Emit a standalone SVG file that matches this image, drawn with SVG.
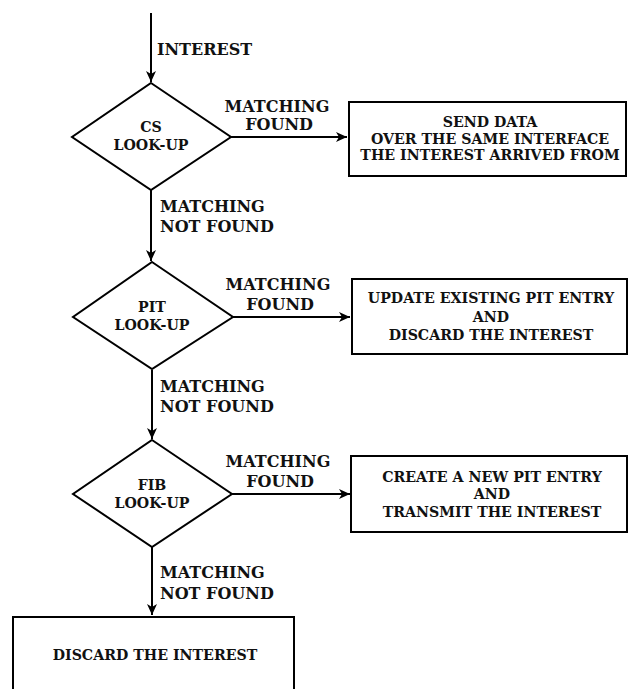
<svg xmlns="http://www.w3.org/2000/svg" width="629" height="689" viewBox="0 0 629 689">
<defs>
<style>
.shape{fill:#fff;stroke:#000;stroke-width:2}
.line{fill:none;stroke:#000;stroke-width:2}
.lbl{font-family:"DejaVu Serif","Liberation Serif",serif;font-weight:bold;font-size:16px;fill:#111}
.txt{font-family:"DejaVu Serif","Liberation Serif",serif;font-weight:bold;font-size:14.2px;fill:#111;text-anchor:middle}
</style>
<marker id="ah" markerUnits="userSpaceOnUse" markerWidth="12" markerHeight="12" viewBox="0 0 12 12" refX="11" refY="6" orient="auto">
<path d="M0,1 L11,6 L0,11 L3,6 Z" fill="#000"/>
</marker>
</defs>
<rect width="629" height="689" fill="#fff"/>
<g id="connectors">
<path class="line" d="M151,13 V82" marker-end="url(#ah)"/>
<path class="line" d="M231,137 H347" marker-end="url(#ah)"/>
<path class="line" d="M151,190 V261" marker-end="url(#ah)"/>
<path class="line" d="M232,317 H350" marker-end="url(#ah)"/>
<path class="line" d="M152,370 V439" marker-end="url(#ah)"/>
<path class="line" d="M232,494 H350" marker-end="url(#ah)"/>
<path class="line" d="M152,547 V615" marker-end="url(#ah)"/>
<text class="lbl" x="157" y="55">INTEREST</text>
<text class="lbl" x="277" y="112" text-anchor="middle">MATCHING</text>
<text class="lbl" x="279" y="130" text-anchor="middle">FOUND</text>
<text class="lbl" x="160" y="212">MATCHING</text>
<text class="lbl" x="160" y="232">NOT FOUND</text>
<text class="lbl" x="278" y="290" text-anchor="middle">MATCHING</text>
<text class="lbl" x="280" y="310" text-anchor="middle">FOUND</text>
<text class="lbl" x="160" y="392">MATCHING</text>
<text class="lbl" x="160" y="412">NOT FOUND</text>
<text class="lbl" x="278" y="467" text-anchor="middle">MATCHING</text>
<text class="lbl" x="280" y="487" text-anchor="middle">FOUND</text>
<text class="lbl" x="160" y="578">MATCHING</text>
<text class="lbl" x="160" y="599">NOT FOUND</text>
</g>
<g id="cs">
<polygon class="shape" points="151,83 231,137 151,190 72,137"/>
<text class="txt" x="151" y="132">CS</text>
<text class="txt" x="151" y="150">LOOK-UP</text>
</g>
<g id="send">
<rect class="shape" x="349" y="102" width="277" height="74"/>
<text class="txt" x="490" y="127">SEND DATA</text>
<text class="txt" x="490" y="144">OVER THE SAME INTERFACE</text>
<text class="txt" x="490" y="160">THE INTEREST ARRIVED FROM</text>
</g>
<g id="pit">
<polygon class="shape" points="152,262 233,317 152,369 73,317"/>
<text class="txt" x="152" y="312">PIT</text>
<text class="txt" x="152" y="330">LOOK-UP</text>
</g>
<g id="update">
<rect class="shape" x="352" y="279" width="275" height="75"/>
<text class="txt" x="491" y="303">UPDATE EXISTING PIT ENTRY</text>
<text class="txt" x="491" y="322">AND</text>
<text class="txt" x="491" y="340">DISCARD THE INTEREST</text>
</g>
<g id="fib">
<polygon class="shape" points="152,440 232,494 152,547 73,494"/>
<text class="txt" x="152" y="490">FIB</text>
<text class="txt" x="152" y="508">LOOK-UP</text>
</g>
<g id="create">
<rect class="shape" x="351" y="456" width="276" height="76"/>
<text class="txt" x="492" y="482">CREATE A NEW PIT ENTRY</text>
<text class="txt" x="492" y="499">AND</text>
<text class="txt" x="492" y="517">TRANSMIT THE INTEREST</text>
</g>
<g id="discard">
<rect class="shape" x="13" y="617" width="281" height="80"/>
<text class="txt" x="155" y="660">DISCARD THE INTEREST</text>
</g>
</svg>
